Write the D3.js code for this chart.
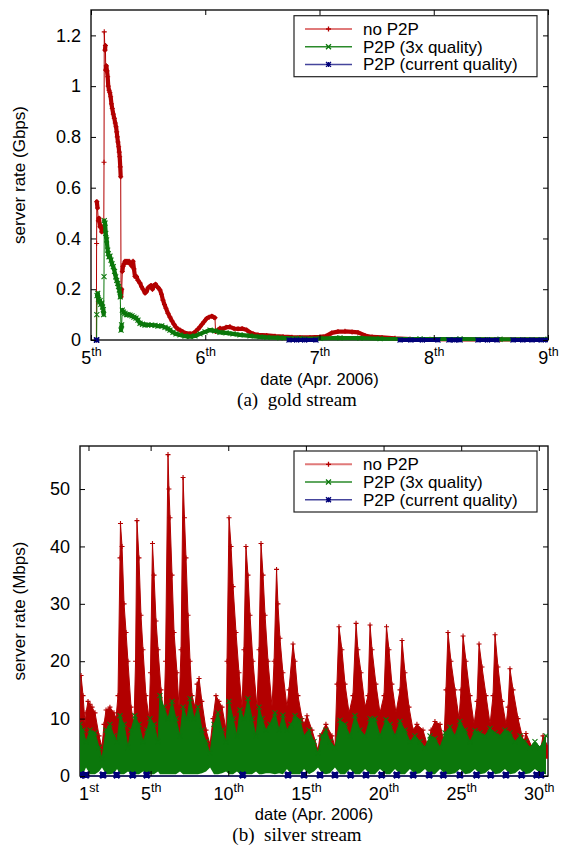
<!DOCTYPE html>
<html>
<head>
<meta charset="utf-8">
<script src="https://d3js.org/d3.v7.min.js"></script>
<style>
body { margin: 0; background: #fff; }
</style>
</head>
<body>
<div id="chart"></div>
<script>
// ---- shared ----
var seriesNames = ["no P2P", "P2P (3x quality)", "P2P (current quality)"];

// ---- (a) gold stream: [day of April, Gbps] ----
var goldTickDays = [5, 6, 7, 8, 9];
var goldTickLabels = ["5th", "6th", "7th", "8th", "9th"];
var goldYTicks = [0, 0.2, 0.4, 0.6, 0.8, 1, 1.2];

var goldNoP2P = [[5.047,0],[5.049,0.38],[5.051,0.545],[5.057,0.52],[5.064,0.47],[5.070,0.48],[5.079,0.446],[5.088,0.45],[5.094,0.426],[5.101,0.44],[5.108,0.43],[5.112,0.44],[5.114,0.70],[5.116,1.214],[5.1225,1.142],[5.126,1.16],[5.129,1.063],[5.134,1.08],[5.140,1.06],[5.146,1.037],[5.151,1.00],[5.158,0.984],[5.165,0.975],[5.172,0.958],[5.179,0.93],[5.186,0.912],[5.195,0.89],[5.204,0.873],[5.212,0.855],[5.219,0.84],[5.225,0.82],[5.230,0.80],[5.236,0.78],[5.242,0.761],[5.247,0.74],[5.251,0.722],[5.256,0.682],[5.260,0.643],[5.263,0.17],[5.269,0.20],[5.274,0.27],[5.280,0.29],[5.289,0.30],[5.298,0.31],[5.306,0.305],[5.315,0.31],[5.324,0.305],[5.333,0.31],[5.341,0.30],[5.350,0.30],[5.359,0.29],[5.368,0.31],[5.376,0.28],[5.385,0.25],[5.398,0.25],[5.411,0.235],[5.429,0.224],[5.442,0.21],[5.455,0.20],[5.473,0.185],[5.486,0.19],[5.499,0.205],[5.512,0.21],[5.525,0.215],[5.538,0.20],[5.551,0.215],[5.565,0.22],[5.578,0.21],[5.591,0.205],[5.604,0.197],[5.617,0.18],[5.630,0.157],[5.643,0.14],[5.656,0.125],[5.674,0.105],[5.691,0.09],[5.709,0.075],[5.726,0.062],[5.744,0.05],[5.761,0.043],[5.779,0.039],[5.805,0.032],[5.838,0.026],[5.867,0.025],[5.893,0.026],[5.919,0.035],[5.937,0.043],[5.954,0.052],[5.972,0.062],[5.989,0.072],[6.013,0.085],[6.033,0.09],[6.057,0.094],[6.073,0.09],[6.085,0.088],[6.090,0.033],[6.112,0.04],[6.129,0.046],[6.155,0.044],[6.182,0.05],[6.217,0.052],[6.252,0.045],[6.287,0.044],[6.322,0.045],[6.363,0.039],[6.392,0.03],[6.421,0.024],[6.462,0.02],[6.538,0.018],[6.611,0.015],[6.681,0.013],[6.759,0.011],[6.829,0.01],[6.917,0.01],[7.004,0.012],[7.057,0.015],[7.107,0.028],[7.162,0.033],[7.223,0.034],[7.285,0.032],[7.337,0.03],[7.398,0.018],[7.460,0.012],[7.547,0.01],[7.661,0.007],[7.792,0.004],[7.967,0.003],[8.230,0.002],[8.580,0.002],[9.0,0.002]];

var gold3x = [[5.049,0],[5.051,0.10],[5.053,0.175],[5.059,0.184],[5.066,0.16],[5.073,0.15],[5.079,0.155],[5.086,0.14],[5.094,0.145],[5.101,0.13],[5.108,0.12],[5.111,0.10],[5.114,0.25],[5.116,0.47],[5.123,0.46],[5.129,0.42],[5.137,0.394],[5.146,0.354],[5.151,0.34],[5.158,0.328],[5.166,0.33],[5.175,0.315],[5.184,0.30],[5.195,0.289],[5.206,0.27],[5.216,0.249],[5.225,0.235],[5.234,0.223],[5.241,0.21],[5.248,0.197],[5.256,0.17],[5.263,0.039],[5.268,0.06],[5.274,0.118],[5.284,0.11],[5.298,0.105],[5.311,0.10],[5.324,0.10],[5.341,0.098],[5.359,0.095],[5.376,0.09],[5.394,0.086],[5.411,0.078],[5.429,0.066],[5.451,0.062],[5.473,0.059],[5.499,0.06],[5.531,0.059],[5.560,0.058],[5.586,0.055],[5.619,0.056],[5.648,0.05],[5.674,0.045],[5.691,0.039],[5.718,0.03],[5.744,0.024],[5.779,0.02],[5.823,0.015],[5.867,0.013],[5.910,0.016],[5.954,0.024],[5.998,0.032],[6.042,0.039],[6.085,0.036],[6.129,0.03],[6.182,0.028],[6.243,0.024],[6.304,0.02],[6.392,0.016],[6.479,0.012],[6.540,0.01],[6.654,0.008],[6.829,0.006],[7.004,0.006],[7.179,0.008],[7.354,0.007],[7.530,0.005],[7.880,0.004],[8.230,0.004],[8.580,0.003],[9.0,0.003]];

// null = no sample (gap in the line)
var goldCurrent = [[5.047,0],[5.051,0],[5.052,null],[6.733,0],[6.80,0],[6.87,0],[6.969,0],[6.97,null],[7.705,0],[7.80,0],[7.90,0],[8.037,0],[8.04,null],[8.133,0],[8.18,0],[8.230,0],[8.235,null],[8.387,0],[8.47,0],[8.554,0],[8.56,null],[8.694,0],[8.78,0],[8.86,0],[8.94,0],[9.0,0]];

// ---- (b) silver stream: [day of April, low, high] in Mbps ----
var silverTickDays = [1, 5, 10, 15, 20, 25, 30];
var silverTickLabels = ["1st", "5th", "10th", "15th", "20th", "25th", "30th"];
var silverYTicks = [0, 10, 20, 30, 40, 50];

var silverNoP2P = [[0.46,3,9],[0.52,3,17.5],[0.65,3,14],[0.78,3,9],[0.84,3,11],[0.97,3,13],[1.10,3,12.5],[1.23,3,12],[1.42,3,11],[1.68,3,7],[1.87,3,5],[2.00,3,9],[2.13,3,11.5],[2.38,3,12],[2.64,3,11],[2.77,3,10],[2.90,3,14],[3.03,4,38],[3.06,4,44],[3.16,4,40],[3.29,4,30],[3.42,4,25],[3.54,4,20],[3.74,4,12],[3.93,4,9],[4.03,4,20],[4.12,4,44.5],[4.25,4,38],[4.38,4,28],[4.51,4,22],[4.70,4,14],[4.90,4,10],[4.99,4,18],[5.12,4,40.5],[5.22,4,35],[5.35,4,27],[5.48,4,22],[5.67,4,15],[5.86,4,10],[5.96,4,20],[6.12,5,56],[6.18,5,50],[6.25,5,45],[6.38,5,35],[6.51,5,25],[6.70,4,18],[6.83,4,12],[6.96,4,22],[7.09,5,52],[7.18,5,45],[7.28,5,38],[7.41,5,28],[7.54,4,20],[7.67,4,14],[7.86,4,12],[7.99,4,16],[8.12,4,17],[8.30,4,13],[8.57,3,8],[8.83,3,5.5],[9.02,3,10],[9.21,4,14],[9.40,4,13],[9.60,3,12],[9.86,3,8],[9.92,4,20],[10.05,5,45],[10.18,5,40],[10.31,5,33],[10.50,4,25],[10.69,4,18],[10.89,4,12],[11.01,4,22],[11.14,5,40],[11.27,5,35],[11.40,4,28],[11.59,4,20],[11.85,4,12],[11.98,4,22],[12.11,5,40.5],[12.24,5,35],[12.37,4,28],[12.56,4,20],[12.82,4,12],[12.95,4,20],[13.11,5,36],[13.20,5,30],[13.33,4,24],[13.52,4,18],[13.78,3,12],[13.91,3,15],[14.17,4,23],[14.30,4,20],[14.49,3,14],[14.75,3,10],[14.88,3,9],[15.07,3,10.5],[15.39,3,8],[15.78,2.5,4.5],[15.91,3,7],[16.29,3,9],[16.68,3,7],[16.87,3,5],[17.00,3,16],[17.13,4,26],[17.32,4,22],[17.52,3,16],[17.78,3,11],[18.03,3,14],[18.23,4,26.6],[18.35,4,22],[18.55,3,18],[18.81,3,12],[19.00,3,14],[19.13,4,26.3],[19.26,4,22],[19.51,3,16],[19.77,3,11],[20.03,3,14],[20.19,4,26],[20.35,4,22],[20.54,3,16],[20.80,3,11],[21.06,3,15],[21.19,4,23.6],[21.38,3,18],[21.64,3,12],[21.90,3,8],[22.15,3,9],[22.54,3,8],[22.86,3,5],[23.06,3,8],[23.31,3,9.5],[23.64,3,9],[23.89,3,6],[24.02,3,15],[24.15,4,25],[24.34,4,20],[24.60,3,15],[24.86,3,10],[24.99,3,15],[25.12,4,24.4],[25.31,4,20],[25.57,3,14],[25.83,3,9],[26.02,3,13],[26.15,4,23],[26.34,4,19],[26.60,3,14],[26.86,3,9],[27.05,3,14],[27.18,4,24.6],[27.37,4,19],[27.63,3,13],[27.89,3,9],[28.02,3,12],[28.14,3,18.7],[28.34,3,15],[28.66,3,10],[28.92,3,7],[29.05,3,6],[29.17,3,7.4],[29.56,2.5,5],[30.08,2.5,3.3],[30.14,2.5,5],[30.27,3,7],[30.59,3,5]];

var silver3x = [[0.45,0.3,9],[0.65,0.3,8],[0.84,1.5,6],[1.10,0.3,8],[1.42,0.3,7.5],[1.68,0.8,5],[1.87,1.5,3],[2.13,0.3,8],[2.38,0.3,9],[2.64,0.5,7],[2.84,1.2,6],[3.03,0.3,10.5],[3.29,0.3,9],[3.54,0.8,5],[3.74,0.5,8],[3.99,0.3,10.5],[4.25,0.3,9],[4.51,0.8,6],[4.77,0.5,8],[4.96,0.3,10],[5.22,0.3,9],[5.48,0.8,6],[5.60,0.3,14],[5.86,0.3,12],[6.12,0.3,10],[6.38,0.3,13],[6.63,0.3,10],[6.89,0.8,7],[7.09,0.3,12],[7.34,0.3,10],[7.54,0.3,13.5],[7.80,0.3,10],[8.05,0.3,12],[8.31,0.5,8],[8.57,0.8,6],[8.83,1.5,4],[9.08,0.3,9],[9.34,0.3,11],[9.60,0.5,8],[9.86,0.8,6],[10.05,0.3,13],[10.31,0.3,10],[10.56,0.8,7],[10.76,0.3,11.5],[11.01,0.3,10],[11.27,0.3,13.5],[11.53,0.3,10],[11.79,0.8,7],[11.98,0.3,12],[12.17,0.3,10],[12.43,0.5,8],[12.69,0.5,9],[13.01,0.3,11],[13.27,0.5,8],[13.52,0.3,10.6],[13.78,1.2,8],[14.04,0.3,9],[14.30,0.3,10.5],[14.62,0.3,9.7],[14.88,1.2,7],[15.20,0.3,8],[15.52,0.8,6],[15.78,1.5,4],[16.04,0.5,7],[16.29,0.3,8],[16.55,0.5,6],[16.87,1.5,5],[17.20,0.3,9.7],[17.52,0.3,9],[17.84,1.2,7],[18.16,0.3,10.5],[18.48,0.3,8],[18.81,1.2,7],[19.13,0.3,10],[19.45,0.3,10],[19.77,1.2,7],[20.16,0.3,9.8],[20.42,0.3,9],[20.74,1.2,7],[21.06,0.3,9.5],[21.38,0.3,8],[21.70,1.2,6],[22.02,0.3,7],[22.35,0.5,6],[22.67,1.2,5],[22.99,0.3,7],[23.31,0.3,6.5],[23.64,1.2,5],[23.96,0.3,7.5],[24.28,0.3,8.5],[24.60,0.5,7],[24.92,1.2,9.5],[25.25,0.3,8],[25.57,0.5,6],[25.89,1.2,7.9],[26.21,0.3,7.5],[26.53,0.5,7],[26.86,1.2,8.3],[27.18,0.3,7.5],[27.50,0.5,7],[27.82,1.2,8],[28.14,0.3,7.5],[28.47,0.5,6],[28.79,1.2,7],[29.11,0.3,6],[29.43,0.5,5],[29.75,1.2,6],[30.08,0.5,5],[30.46,0.3,7]];

var silverCurrent = [[0.485,0],[0.56,0],[0.839,0],[1.934,0],[2.816,0],[3.846,0],[4.748,0],[10.93,0],[13.85,0],[14.88,0],[15.91,0],[16.87,0],[17.88,0],[18.87,0],[19.88,0],[20.85,0],[21.91,0],[22.94,0],[23.85,0],[24.92,0],[25.99,0],[26.90,0],[27.88,0],[28.89,0],[29.86,0],[30.14,0]];

// ---- styles ----
var colors = ["#b20000", "#0b770b", "#000078"];
var legendLineColors = ["#e07a7a", "#2a8a2a", "#45459c"];
var markerTypes = ["plus", "cross", "star"];
var W = 566, H = 845;
var sansFont = "'Liberation Sans', Arial, Helvetica, sans-serif";

var svg = d3.select("#chart").append("svg")
    .attr("width", W).attr("height", H)
    .style("font-family", sansFont);

function markerPath(type, px, py, s) {
    var h = s / 2, p = "";
    if (type === "plus" || type === "star")
        p += "M" + (px - h) + "," + py + "h" + s + "M" + px + "," + (py - h) + "v" + s;
    if (type === "cross" || type === "star")
        p += "M" + (px - h) + "," + (py - h) + "l" + s + "," + s + "M" + (px - h) + "," + (py + h) + "l" + s + "," + (-s);
    return p;
}

function makePanel(opt) {
    var p = {};
    p.opt = opt;
    p.x = d3.scaleLinear().domain(opt.xDomain).range([opt.left, opt.right]);
    p.y = d3.scaleLinear().domain(opt.yDomain).range([opt.bottom, opt.top]);
    p.g = svg.append("g");
    // border goes underneath the data, like gnuplot's
    p.g.append("rect").attr("x", opt.left).attr("y", opt.top)
        .attr("width", opt.right - opt.left).attr("height", opt.bottom - opt.top)
        .attr("fill", "none").attr("stroke", "#111").attr("stroke-width", 1.4);
    svg.append("clipPath").attr("id", opt.id + "-clip").append("rect")
        .attr("x", opt.left).attr("y", opt.top)
        .attr("width", opt.right - opt.left).attr("height", opt.bottom - opt.top + 3);
    p.plot = p.g.append("g").attr("clip-path", "url(#" + opt.id + "-clip)");
    return p;
}

// line with markers; near-flat stretches are drawn thick like the packed markers
function drawDenseLine(p, data, i) {
    var thin = "", thick = "";
    for (var k = 1; k < data.length; k++) {
        var a = data[k - 1], b = data[k];
        if (a[1] == null || b[1] == null) continue;
        var x0 = p.x(a[0]), y0 = p.y(a[1]), x1 = p.x(b[0]), y1 = p.y(b[1]);
        var seg = "M" + x0 + "," + y0 + "L" + x1 + "," + y1;
        if (Math.abs(y1 - y0) > 12) thin += seg; else thick += seg;
    }
    p.plot.append("path").attr("d", thick).attr("fill", "none")
        .attr("stroke", colors[i]).attr("stroke-width", 4.2).attr("stroke-linecap", "round");
    p.plot.append("path").attr("d", thin).attr("fill", "none")
        .attr("stroke", colors[i]).attr("stroke-width", 1);
    var md = data.filter(function(d) { return d[1] != null; })
        .map(function(d) { return markerPath(markerTypes[i], p.x(d[0]), p.y(d[1]), 5); }).join("");
    p.plot.append("path").attr("d", md).attr("fill", "none")
        .attr("stroke", colors[i]).attr("stroke-width", 1.1);
}

// dense oscillating series: filled between low and high envelope
function drawBand(p, data, i) {
    var area = d3.area()
        .x(function(d) { return p.x(d[0]); })
        .y0(function(d) { return p.y(d[1]); })
        .y1(function(d) { return p.y(d[2]); });
    p.plot.append("path").datum(data).attr("d", area).attr("fill", colors[i]);
    var line = d3.line()
        .x(function(d) { return p.x(d[0]); })
        .y(function(d) { return p.y(d[2]); });
    p.plot.append("path").datum(data).attr("d", line).attr("fill", "none")
        .attr("stroke", colors[i]).attr("stroke-width", 1);
    var md = data.map(function(d) { return markerPath(markerTypes[i], p.x(d[0]), p.y(d[2]), 5); }).join("");
    p.plot.append("path").attr("d", md).attr("fill", "none")
        .attr("stroke", colors[i]).attr("stroke-width", 1.1);
}

function drawPoints(p, data, i) {
    var line = d3.line()
        .defined(function(d) { return d[1] != null; })
        .x(function(d) { return p.x(d[0]); })
        .y(function(d) { return p.y(d[1]); });
    p.plot.append("path").datum(data).attr("d", line).attr("fill", "none")
        .attr("stroke", colors[i]).attr("stroke-width", 1);
    var md = data.map(function(d) { return markerPath(markerTypes[i], p.x(d[0]), p.y(d[1]) - 1, 6); }).join("");
    p.plot.append("path").attr("d", md).attr("fill", "none")
        .attr("stroke", colors[i]).attr("stroke-width", 2.6);
}

function drawAxes(p) {
    var o = p.opt;
    var xb = p.g.append("g").attr("transform", "translate(0," + o.bottom + ")")
        .call(d3.axisBottom(p.x).tickValues(o.xTicks).tickSize(-5).tickSizeOuter(0)
            .tickFormat(function(d, i) { return o.xLabels[i]; }));
    var xt = p.g.append("g").attr("transform", "translate(0," + o.top + ")")
        .call(d3.axisTop(p.x).tickValues(o.xTicks).tickSize(-5).tickSizeOuter(0).tickFormat(""));
    var yl = p.g.append("g").attr("transform", "translate(" + o.left + ",0)")
        .call(d3.axisLeft(p.y).tickValues(o.yTicks).tickSize(-5).tickSizeOuter(0).tickPadding(10)
            .tickFormat(d3.format("")));
    var yr = p.g.append("g").attr("transform", "translate(" + o.right + ",0)")
        .call(d3.axisRight(p.y).tickValues(o.yTicks).tickSize(-5).tickSizeOuter(0).tickFormat(""));
    [xb, xt, yl, yr].forEach(function(a) {
        a.attr("font-family", null).attr("font-size", null);
        a.select(".domain").remove();
        a.selectAll("line").attr("stroke", "#000");
    });
    yl.selectAll("text").attr("font-size", 18).attr("fill", "#000");
    xb.selectAll("text").attr("y", 24).attr("dy", null).attr("font-size", 18).attr("fill", "#000")
        .each(function(d, i) {
            var m = /^(\d+)(\D*)$/.exec(o.xLabels[i]);
            var t = d3.select(this).text(null);
            t.append("tspan").text(m[1]);
            t.append("tspan").attr("font-size", 12.5).attr("dy", -8).text(m[2]);
        });

    var cy = (o.top + o.bottom) / 2;
    p.g.append("text").attr("transform", "translate(25," + cy + ") rotate(-90)")
        .attr("text-anchor", "middle").attr("font-size", 17).text(o.yTitle);
    p.g.append("text").attr("x", (o.left + o.right) / 2).attr("y", o.dateY)
        .attr("text-anchor", "middle").attr("font-size", 16.5).text("date (Apr. 2006)");
    p.g.append("text").attr("x", 297).attr("y", o.captionY)
        .attr("text-anchor", "middle").attr("font-size", 19)
        .attr("font-family", "'Liberation Serif', 'Times New Roman', serif")
        .attr("xml:space", "preserve").text(o.caption);
}

function drawLegend(p) {
    var top = p.opt.legendTop;
    var lg = p.g.append("g");
    lg.append("rect").attr("x", 294).attr("y", top).attr("width", 243).attr("height", 61)
        .attr("fill", "#fff").attr("stroke", "#222").attr("stroke-width", 1.2);
    seriesNames.forEach(function(name, i) {
        var yy = top + 13.3 + i * 17.7;
        lg.append("line").attr("x1", 305).attr("x2", 352).attr("y1", yy).attr("y2", yy)
            .attr("stroke", legendLineColors[i]).attr("stroke-width", i === 0 ? 2 : 1.5);
        lg.append("path").attr("d", markerPath(markerTypes[i], 328.5, yy, 5))
            .attr("stroke", colors[i]).attr("stroke-width", 1.3).attr("fill", "none");
        lg.append("text").attr("x", 363).attr("y", yy + 6).attr("font-size", 17).text(name);
    });
}

// ---- panel (a) ----
var pa = makePanel({
    id: "gold", left: 91, right: 548, top: 10, bottom: 340,
    xDomain: [5, 9], yDomain: [0, 1.3],
    xTicks: goldTickDays, xLabels: goldTickLabels, yTicks: goldYTicks,
    yTitle: "server rate (Gbps)", caption: "(a)  gold stream", dateY: 385, captionY: 406, legendTop: 15.7
});
drawDenseLine(pa, goldNoP2P, 0);
drawDenseLine(pa, gold3x, 1);
drawDenseLine(pa, goldCurrent, 2);
drawAxes(pa);
drawLegend(pa);

// ---- panel (b) ----
var pb = makePanel({
    id: "silver", left: 80, right: 548, top: 446, bottom: 776,
    xDomain: [0.453, 30.59], yDomain: [0, 57.5],
    xTicks: silverTickDays, xLabels: silverTickLabels, yTicks: silverYTicks,
    yTitle: "server rate (Mbps)", caption: "(b)  silver stream", dateY: 820, captionY: 840.8, legendTop: 451
});
drawBand(pb, silverNoP2P, 0);
drawBand(pb, silver3x, 1);
drawPoints(pb, silverCurrent, 2);
drawAxes(pb);
drawLegend(pb);
</script>
</body>
</html>
